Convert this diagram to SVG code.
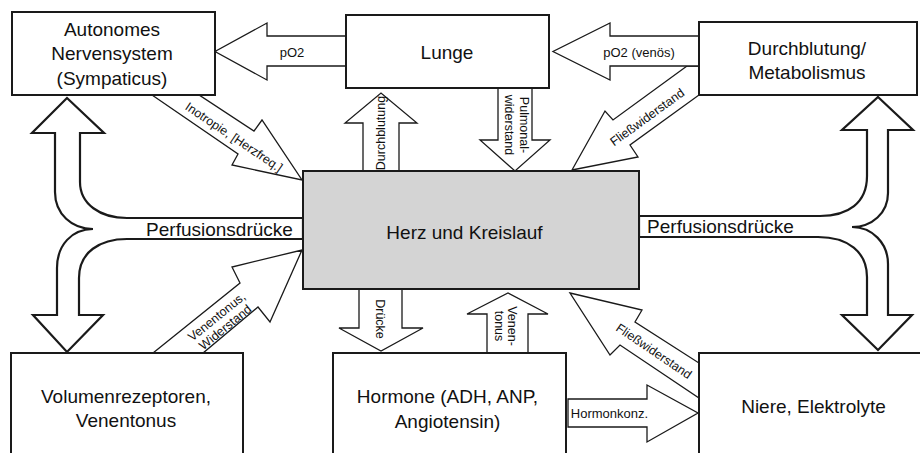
<svg xmlns="http://www.w3.org/2000/svg" width="920" height="453" viewBox="0 0 920 453">
<defs>
<style>
.box{fill:#fff;stroke:#1a1a1a;stroke-width:2}
.herz{fill:#d4d4d4;stroke:#1a1a1a;stroke-width:2}
.arr{fill:#fff;stroke:#1a1a1a;stroke-width:1.3;stroke-linejoin:miter}
.big{fill:#fff;stroke:#1a1a1a;stroke-width:2.2;stroke-linejoin:miter}
.t{font-family:'Liberation Sans',Arial,sans-serif;font-size:19px;fill:#111;text-anchor:middle}
.s{font-family:'Liberation Sans',Arial,sans-serif;font-size:13px;fill:#111;text-anchor:middle}
.r{font-family:'Liberation Sans',Arial,sans-serif;font-size:12.5px;fill:#111;text-anchor:middle}
</style>
</defs>
<rect width="920" height="453" fill="#fff"/>
<g id="connectors">
  <path class="big" d="M67 98 L104 133 L80 133 L80 182 C80 204 100 218 127 218 L303 218 L303 239 L127 239 C100 239 79 252 79 278 L79 315 L103 315 L67 352 L33 315 L57 315 L57 268 C57 245 72 229 93 229 C72 229 55 214 55 192 L55 133 L32 133 Z"/>
  <text class="t" x="219.5" y="236">Perfusionsdrücke</text>
  <path class="big" d="M878 97 L913 130 L888 130 L888 193 C888 213 872 227 852 227 C872 227 888 243 888 264 L888 315 L912 315 L878 350 L842 315 L867 315 L867 277 C867 252 848 237 818 237 L639 237 L639 216 L820 216 C848 216 867 203 867 176 L867 130 L842 130 Z"/>
  <text class="t" x="720.5" y="233">Perfusionsdrücke</text>

  <polygon class="arr" points="687,66 613,120 605,111 572,170 638,157 630,145 699,95 699,66"/>
  <text class="r" transform="translate(647,117) rotate(-36)" y="4.4">Fließwiderstand</text>

  <polygon class="arr" points="346,36 267,36 267,23 215,51.5 267,80 267,66 346,66"/>
  <text class="s" x="292" y="56.5">pO2</text>

  <polygon class="arr" points="699,36 610,36 610,23 553,51.5 610,80 610,66 699,66"/>
  <text class="s" x="639" y="56.5">pO2 (venös)</text>

  <polygon class="arr" points="363,171 363,123 345,123 381,93 417,123 399,123 399,171"/>
  <text class="r" transform="translate(381,133) rotate(-90)" y="4.4">Durchblutung</text>

  <polygon class="arr" points="498,88 498,140 480,140 515,171 550,140 532,140 532,88"/>
  <text class="r" transform="translate(516,125) rotate(90)"><tspan x="0" y="-3.8">Pulmonal-</tspan><tspan x="0" y="10.7">widerstand</tspan></text>

  <polygon class="arr" points="152,95 238,154 232,165 302,180 262,120 254,131 199,95"/>
  <text class="r" transform="translate(234,137) rotate(34)" y="4.4">Inotropie, [Herzfreq.]</text>

  <polygon class="arr" points="153,353 240,283 232,267 302,250 270,322 258,307 203,353"/>
  <text class="r" transform="translate(221,322) rotate(-39)"><tspan x="0" y="-2.6">Venentonus,</tspan><tspan x="0" y="11">Widerstand</tspan></text>

  <polygon class="arr" points="359,289 359,328 339,328 381,351 423,328 402,328 402,289"/>
  <text class="r" transform="translate(380,319) rotate(90)" y="4.4">Drücke</text>

  <polygon class="arr" points="487,353 487,314 467,314 508,293 548,314 528,314 528,353"/>
  <text class="r" transform="translate(506,326) rotate(90)"><tspan x="0" y="-2.3">Venen-</tspan><tspan x="0" y="11.2">tonus</tspan></text>

  <polygon class="arr" points="570,293 642,310 635,322 699,363 699,398 620,345 610,355"/>
  <text class="r" transform="translate(654,351) rotate(34)" y="4.4">Fließwiderstand</text>

  <polygon class="arr" points="568,399 647,399 647,385 698,413 647,442 647,427 568,427"/>
  <text class="s" x="609.5" y="417.5">Hormonkonz.</text>
</g>

<g id="autonomes">
  <rect class="box" x="12" y="12" width="203" height="83"/>
  <text class="t" x="112"><tspan x="112" y="35.5">Autonomes</tspan><tspan x="112" y="60">Nervensystem</tspan><tspan x="112" y="84.5">(Sympaticus)</tspan></text>
</g>
<g id="lunge">
  <rect class="box" x="346" y="15" width="203" height="73"/>
  <text class="t" x="447" y="59">Lunge</text>
</g>
<g id="durchblutung">
  <rect class="box" x="699" y="22" width="218" height="73"/>
  <text class="t"><tspan x="807" y="54.5">Durchblutung/</tspan><tspan x="807" y="79">Metabolismus</tspan></text>
</g>
<g id="herz">
  <rect class="herz" x="303" y="171" width="336" height="118"/>
  <text class="t" x="464.5" y="238.5">Herz und Kreislauf</text>
</g>
<g id="volumen">
  <rect class="box" x="11" y="353" width="232" height="110"/>
  <text class="t"><tspan x="126" y="403">Volumenrezeptoren,</tspan><tspan x="126" y="427">Venentonus</tspan></text>
</g>
<g id="hormone">
  <rect class="box" x="333" y="353" width="233" height="110"/>
  <text class="t"><tspan x="447.5" y="403">Hormone (ADH, ANP,</tspan><tspan x="447.5" y="427.5">Angiotensin)</tspan></text>
</g>
<g id="niere">
  <rect class="box" x="699" y="353" width="230" height="110"/>
  <text class="t" x="813.5" y="413">Niere, Elektrolyte</text>
</g>
</svg>
